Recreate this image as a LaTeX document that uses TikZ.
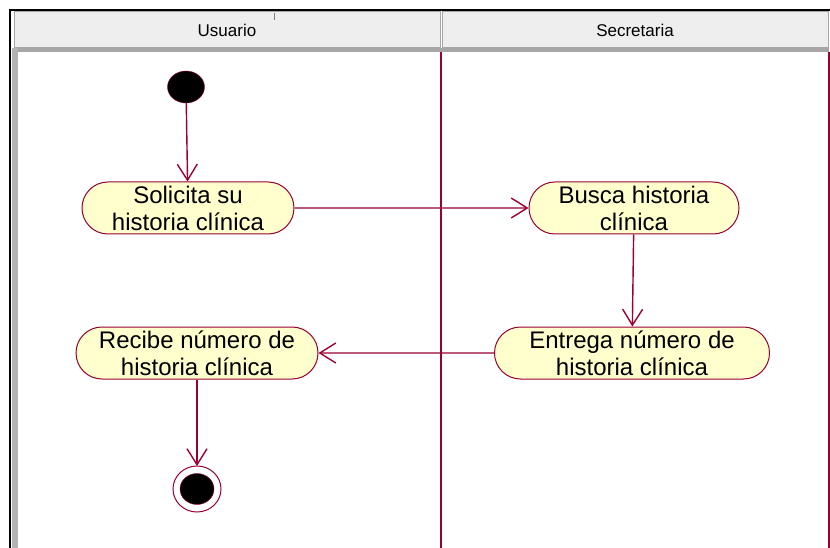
\documentclass[tikz,border=0pt]{standalone}
\usepackage{fontspec}
\setmainfont{Liberation Sans}
\usetikzlibrary{shapes.misc,shapes.geometric,arrows.meta}
\definecolor{rosered}{RGB}{153,0,51}
\definecolor{actfill}{RGB}{255,255,206}
\definecolor{headgray}{RGB}{238,238,238}
\begin{document}
\begin{tikzpicture}[
 x=1pt, y=-1pt,
 >={Straight Barb[length=16pt,width=20pt]},
 align=center,
 activity/.style={draw=rosered,fill=actfill,rounded rectangle,line width=1pt,
   minimum height=52pt,inner sep=2pt,font=\fontsize{24}{27}\selectfont},
 startnode/.style={ellipse,fill=black,draw=rosered,minimum width=37pt,minimum height=32pt,inner sep=0pt},
 flow/.style={draw=rosered,line width=1.4pt,->},
 header/.style={fill=headgray,draw=gray!70,line width=1pt,minimum height=36pt,font=\fontsize{17}{20}\selectfont}
]
\useasboundingbox (0,0) rectangle (830,548);
% swimlane frame
\fill [white] (0,0) rectangle (830,548);
\node (usuario-head) [header,minimum width=426pt] at (227,30) {Usuario};
\node (secretaria-head) [header,minimum width=386pt] at (635,30) {Secretaria};
\fill [gray!70] (12,48) rectangle (829,52);
\fill [gray!60] (12,48) rectangle (18,548);
\draw [black,line width=1.5pt] (10,548) -- (10,10) -- (830,10);
\draw [gray,line width=1pt] (274,13) -- (274,20);
\draw [rosered,line width=1.5pt] (441,52) -- (441,548);
\draw [rosered,line width=1.5pt] (829,52) -- (829,548);
% activities
\node (inicio) [startnode] at (186,87) {};
\node (solicita) [activity,minimum width=216pt] at (188,208) {Solicita su\\historia clínica};
\node (busca) [activity,minimum width=214pt] at (634,208) {Busca historia\\clínica};
\node (entrega) [activity,minimum width=279pt] at (632,353) {Entrega número de\\historia clínica};
\node (recibe) [activity,minimum width=246pt] at (197,353) {Recibe número de\\historia clínica};
\draw [rosered,line width=1pt] (197,489) ellipse (24pt and 23pt);
\node (fin) [ellipse,fill=black,draw=rosered,minimum width=34pt,minimum height=31pt,inner sep=0pt] at (197,489) {};
\coordinate (fin-top) at (197,466);
% transitions
\draw [flow] (inicio) -- (solicita);
\draw [flow] (solicita) -- (busca);
\draw [flow] (busca) -- (entrega);
\draw [flow] (entrega) -- (recibe);
\draw [flow] (recibe) -- (fin-top);
\end{tikzpicture}
\end{document}
